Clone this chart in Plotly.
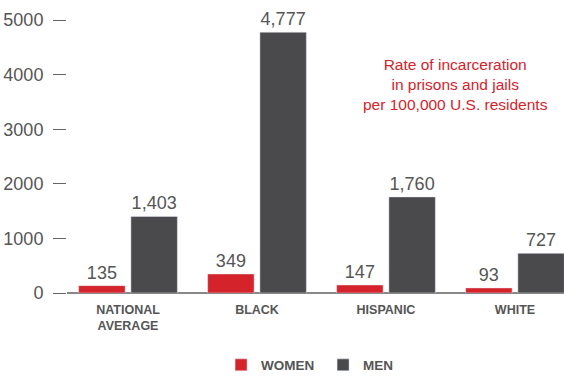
import plotly.graph_objects as go

categories = ["NATIONAL<br>AVERAGE", "BLACK", "HISPANIC", "WHITE"]
women = [135, 349, 147, 93]
men = [1403, 4777, 1760, 727]
women_labels = ["135", "349", "147", "93"]
men_labels = ["1,403", "4,777", "1,760", "727"]
y_ticks = [0, 1000, 2000, 3000, 4000, 5000]

RED = "#d4232b"
GRAY = "#4a4a4c"
TXT = "#555555"
FONT = "Liberation Sans, Arial, Helvetica, sans-serif"

fig = go.Figure()
fig.add_trace(go.Bar(
    x=categories, y=women, name="WOMEN", marker_color=RED,
    text=women_labels, textposition="outside", cliponaxis=False,
    textfont=dict(size=18, color=TXT, family=FONT),
))
fig.add_trace(go.Bar(
    x=categories, y=men, name="MEN", marker_color=GRAY,
    text=men_labels, textposition="outside", cliponaxis=False,
    textfont=dict(size=18, color=TXT, family=FONT),
))

fig.update_layout(
    width=564, height=378,
    margin=dict(l=67, r=0, t=20, b=85, autoexpand=False),
    paper_bgcolor="white", plot_bgcolor="white",
    barmode="group", bargap=0.19, bargroupgap=0.11,
    font=dict(family=FONT, color=TXT),
    showlegend=True,
    legend=dict(
        orientation="h", x=0.31, xanchor="left", y=-0.264, yanchor="middle",
        font=dict(size=13.5, color=TXT, family=FONT, weight="bold"),
        itemwidth=30, tracegroupgap=0, entrywidth=57, entrywidthmode="pixels",
    ),
    annotations=[dict(
        text="Rate of incarceration<br>in prisons and jails<br>per 100,000 U.S. residents",
        x=0.781, y=0.762, xref="paper", yref="paper", showarrow=False,
        xanchor="center", yanchor="middle",
        font=dict(size=15.5, color=RED, family=FONT), align="center",
    )],
)
fig.update_xaxes(
    range=[-0.473, 3.38], showgrid=False, showline=False, ticks="",
    tickfont=dict(size=12.5, color=TXT, family=FONT, weight="bold"),
    ticklabelstandoff=7, automargin=False,
)
fig.update_yaxes(
    range=[0, 5000], tickvals=y_ticks, ticktext=[str(v) for v in y_ticks],
    showgrid=False, showline=False, ticks="outside", ticklen=13, tickwidth=1,
    tickcolor="#666666", zeroline=True, zerolinecolor="#888888", zerolinewidth=1.5,
    tickfont=dict(size=18, color=TXT, family=FONT), ticklabelstandoff=6,
    automargin=False,
)

fig.write_html("out.html")
